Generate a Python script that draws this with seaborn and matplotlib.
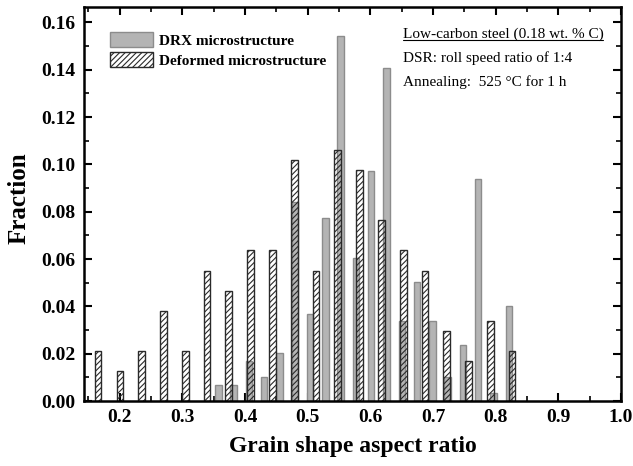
import numpy as np
import matplotlib
matplotlib.use("Agg")
import matplotlib.pyplot as plt
import seaborn as sns
from matplotlib.patches import Patch
from matplotlib.lines import Line2D
from matplotlib.ticker import MultipleLocator, FormatStrFormatter

# ---- data ----
drx_x = [0.3574, 0.3818, 0.4062, 0.4306, 0.4550, 0.4794, 0.5038, 0.5282, 0.5526, 0.5770,
         0.6014, 0.6258, 0.6502, 0.6745, 0.6989, 0.7233, 0.7477, 0.7721, 0.7965, 0.8209]
drx_y = [0.0067, 0.0067, 0.0168, 0.0101, 0.0201, 0.0839, 0.0369, 0.0772, 0.1544, 0.0604,
         0.0973, 0.1409, 0.0336, 0.0503, 0.0336, 0.0101, 0.0235, 0.0940, 0.0034, 0.0403]

def_x = [0.1654, 0.2002, 0.2350, 0.2698, 0.3045, 0.3393, 0.3741, 0.4089, 0.4437, 0.4785,
         0.5133, 0.5480, 0.5828, 0.6176, 0.6524, 0.6872, 0.7220, 0.7568, 0.7915, 0.8263]
def_y = [0.0212, 0.0127, 0.0212, 0.0381, 0.0212, 0.0551, 0.0466, 0.0636, 0.0636, 0.1017,
         0.0551, 0.1059, 0.0975, 0.0763, 0.0636, 0.0551, 0.0297, 0.0169, 0.0339, 0.0212]

series_labels = ["DRX microstructure", "Deformed microstructure"]
info_lines = ["Low-carbon steel (0.18 wt. % C)",
              "DSR: roll speed ratio of 1:4",
              "Annealing:  525 \u00b0C for 1 h"]
x_label = "Grain shape aspect ratio"
y_label = "Fraction"

# ---- style ----
sns.set_style("ticks")
plt.rcParams["font.family"] = ["Liberation Serif", "DejaVu Serif"]
plt.rcParams["hatch.linewidth"] = 0.8
for k in ["text.color", "axes.labelcolor", "xtick.color", "ytick.color", "axes.edgecolor"]:
    plt.rcParams[k] = "black"

fig = plt.figure(figsize=(6.33, 4.66), dpi=100)
ax = fig.add_axes([84 / 633, 1 - 401 / 466, (621 - 84) / 633, (401 - 7) / 466])

gray_face = "#b4b4b4"
gray_edge = "#8c8c8c"
hatch_edge = "#2a2a2a"

w_gray = 0.0102 / np.min(np.diff(drx_x))
w_hatch = 0.0106 / np.min(np.diff(def_x))

sns.barplot(x=drx_x, y=drx_y, native_scale=True, width=w_gray, errorbar=None,
            color=gray_face, saturation=1, edgecolor=gray_edge, linewidth=1.0, ax=ax)
sns.barplot(x=def_x, y=def_y, native_scale=True, width=w_hatch, errorbar=None,
            fill=False, color=hatch_edge, hatch="//////", linewidth=1.0, ax=ax)

ax.set_xlim(0.143, 1.0)
ax.set_ylim(0, 0.1665)
ax.xaxis.set_major_locator(MultipleLocator(0.1))
ax.xaxis.set_minor_locator(MultipleLocator(0.05))
ax.yaxis.set_major_locator(MultipleLocator(0.02))
ax.yaxis.set_minor_locator(MultipleLocator(0.01))
ax.xaxis.set_major_formatter(FormatStrFormatter("%.1f"))
ax.yaxis.set_major_formatter(FormatStrFormatter("%.2f"))
ax.set_xticks(np.round(np.arange(0.2, 1.01, 0.1), 1))

ax.tick_params(which="both", direction="in", top=True, right=True, colors="black")
ax.tick_params(which="major", length=6, width=1.5, labelsize=14, pad=6)
ax.tick_params(which="minor", length=3.5, width=1.2)
for lab in ax.get_xticklabels() + ax.get_yticklabels():
    lab.set_fontweight("bold")
for sp in ax.spines.values():
    sp.set_linewidth(1.8)
    sp.set_color("black")

ax.set_xlabel(x_label, fontsize=17, fontweight="bold", labelpad=7)
ax.set_ylabel(y_label, fontsize=18, fontweight="bold", labelpad=8)
ax.yaxis.label.set_y(0.515)

handles = [Patch(facecolor=gray_face, edgecolor=gray_edge, linewidth=1.0),
           Patch(facecolor="white", edgecolor=hatch_edge, hatch="//////", linewidth=1.0)]
leg = ax.legend(handles, series_labels, loc="upper left", bbox_to_anchor=(0.029, 0.964),
                frameon=False, prop={"family": "Liberation Serif", "weight": "bold", "size": 11},
                handlelength=2.8, handleheight=1.15, handletextpad=0.4, labelspacing=0.3,
                borderaxespad=0.3)

ys = [0.921, 0.860, 0.7995]
texts = []
for line, yv in zip(info_lines, ys):
    t = ax.text(0.5935, yv, line, transform=ax.transAxes, fontsize=11, va="baseline", ha="left")
    texts.append(t)

# underline the first info line
fig.canvas.draw()
r = fig.canvas.get_renderer()
bb = texts[0].get_window_extent(renderer=r)
inv = fig.transFigure.inverted()
(x0, _) = inv.transform((bb.x0, 0))
(x1, _) = inv.transform((bb.x1, 0))
ybase = ax.transAxes.transform((0, ys[0]))[1] - 2.0
yl = inv.transform((0, ybase))[1]
fig.add_artist(Line2D([x0, x1], [yl, yl], transform=fig.transFigure, color="black", linewidth=0.8))

fig.savefig("out.png", dpi=100)
